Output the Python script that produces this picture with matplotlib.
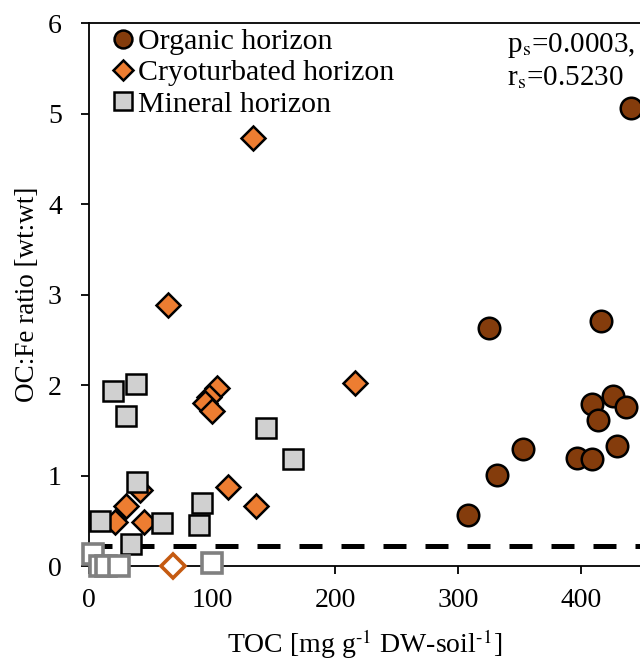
import matplotlib
matplotlib.use('Agg')
import matplotlib.pyplot as plt

plt.rcParams['font.family'] = ['Liberation Serif', 'DejaVu Serif']
plt.rcParams['mathtext.fontset'] = 'stix'

# organic horizon
org_toc = [325, 416, 408.7, 426, 437, 414, 353, 331.5, 308, 396.5, 409, 429.5, 441]
org_ratio = [2.63, 2.71, 1.79, 1.88, 1.76, 1.61, 1.29, 1.01, 0.57, 1.20, 1.18, 1.33, 5.06]

# cryoturbated horizon
cry_toc = [133, 64, 216, 104, 97.6, 94.3, 99.7, 112.7, 136, 30, 21, 45, 41.5]
cry_ratio = [4.73, 2.89, 2.02, 1.97, 1.87, 1.80, 1.71, 0.88, 0.66, 0.66, 0.49, 0.49, 0.84]
cry_low_toc = [68]
cry_low_ratio = [0.0]

# mineral horizon
min_toc = [19.8, 38, 30, 143.6, 166, 38.8, 92, 89.4, 9, 59, 34]
min_ratio = [1.94, 2.01, 1.66, 1.53, 1.18, 0.93, 0.70, 0.45, 0.50, 0.48, 0.24]
min_low_toc = [3.5, 9, 14, 24.6, 99.7]
min_low_ratio = [0.13, 0.0, 0.0, 0.0, 0.03]

threshold = 0.22

fig = plt.figure(figsize=(6.4, 6.63), dpi=100)
ax = fig.add_axes([89/640, 0.146, 1 - 89/640, 0.819])

ax.axhline(threshold, color='black', lw=3.6, dashes=(4.6, 3.8), zorder=1)

ax.plot(org_toc, org_ratio, 'o', ms=15.5, mfc='#843C0C', mec='black', mew=1.8,
        label='Organic horizon', clip_on=False, zorder=3)
ax.plot(cry_toc, cry_ratio, 'D', ms=12.5, mfc='#ED7D31', mec='black', mew=1.8,
        label='Cryoturbated horizon', clip_on=False, zorder=3)
ax.plot(min_toc, min_ratio, 's', ms=15, mfc='#D0D0D0', mec='black', mew=1.8,
        label='Mineral horizon', clip_on=False, zorder=4)
ax.plot(cry_low_toc, cry_low_ratio, 'D', ms=12.5, mfc='white', mec='#C55A11', mew=2.6,
        clip_on=False, zorder=3)
ax.plot(min_low_toc, min_low_ratio, 's', ms=15, mfc='white', mec='#808080', mew=2.6,
        clip_on=False, zorder=4)

ax.set_xlim(0, 448)
ax.set_ylim(0, 6)
ax.set_xticks([0, 100, 200, 300, 400])
ax.set_yticks([0, 1, 2, 3, 4, 5, 6])
ax.tick_params(direction='out', length=6, width=1.3, labelsize=20)
ax.tick_params(axis='x', pad=9.5)
ax.tick_params(axis='y', pad=13.5)
ax.spines['right'].set_visible(False)
for s in ['left', 'bottom', 'top']:
    ax.spines[s].set_linewidth(1.3)

ax.set_xlabel(r'TOC [mg g$^{\text{-1}}$ DW-soil$^{\text{-1}}$]', fontsize=20)
ax.set_ylabel('OC:Fe ratio [wt:wt]', fontsize=19.5)
ax.xaxis.set_label_coords(0.5, -0.112)
ax.yaxis.set_label_coords(-0.089, 0.5)

ax.legend(loc='upper left', bbox_to_anchor=(0.035, 0.991), frameon=False, fontsize=21.5,
          markerscale=0.83, handletextpad=0.0, handlelength=1.0, labelspacing=0.15,
          borderaxespad=0.0, borderpad=0.0)

ax.text(0.759, 0.947, r'p$_\mathrm{s}$=0.0003,', transform=ax.transAxes, fontsize=21,
        va='baseline')
ax.text(0.759, 0.886, r'r$_\mathrm{s}$=0.5230', transform=ax.transAxes, fontsize=21,
        va='baseline')

fig.savefig('out.png', dpi=100)
